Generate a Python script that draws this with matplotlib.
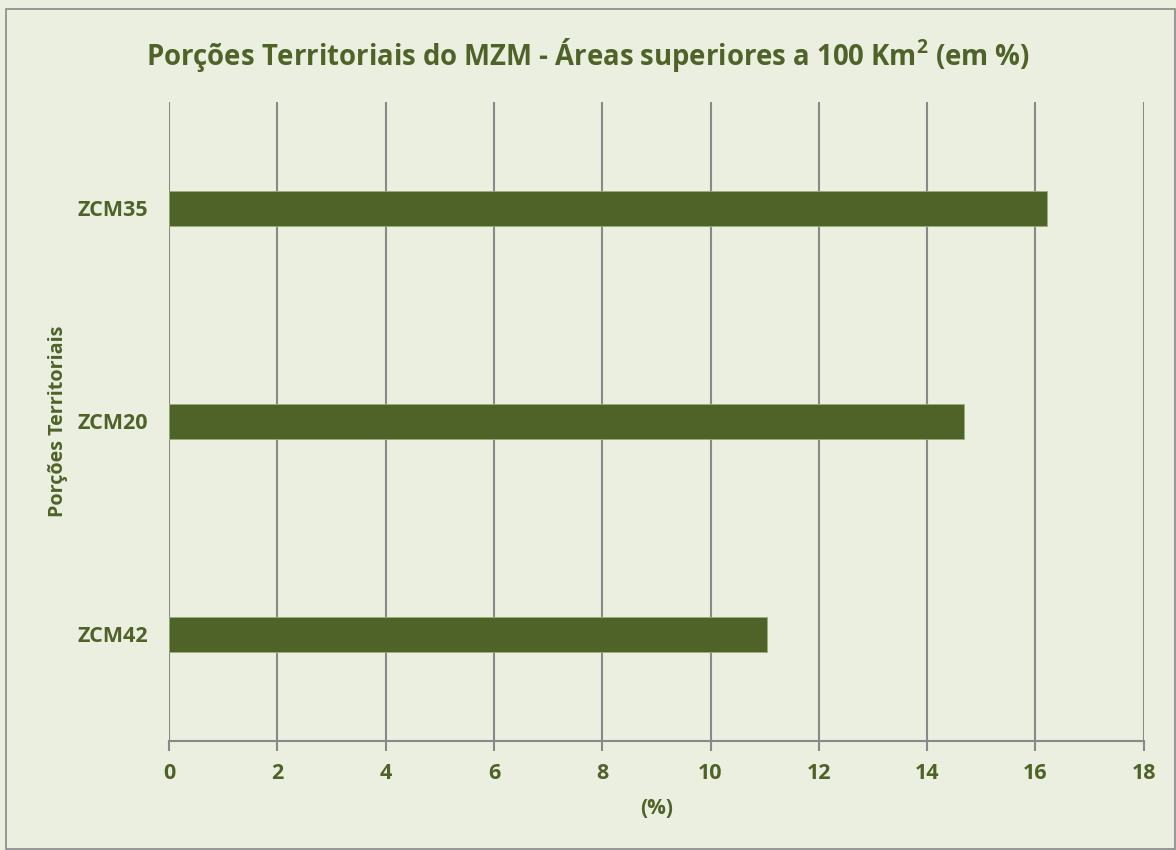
import matplotlib.pyplot as plt
import numpy as np

plt.rcParams['font.family'] = ['Open Sans', 'DejaVu Sans']
plt.rcParams['mathtext.fontset'] = 'custom'
plt.rcParams['mathtext.bf'] = 'Open Sans:bold'
plt.rcParams['mathtext.rm'] = 'Open Sans'

categories = ['ZCM42', 'ZCM20', 'ZCM35']
values = [11.04, 14.69, 16.22]
xticks = [0, 2, 4, 6, 8, 10, 12, 14, 16, 18]

bg = '#ebefdf'
green = '#4f6228'
grid = '#898989'

fig = plt.figure(figsize=(11.76, 8.5), dpi=100, facecolor=bg)
# outer frame
fig.patches.append(plt.Rectangle((6 / 1176, 1 - 849 / 850), 1169 / 1176, 840 / 850,
                                 transform=fig.transFigure, fill=False,
                                 edgecolor=grid, linewidth=1.2))

ax = fig.add_axes([169 / 1176, 1 - 741 / 850, (1143.7 - 169) / 1176, (741 - 102) / 850])
ax.set_facecolor(bg)

y = np.arange(len(categories))
ax.barh(y, values, height=0.164, color=green, edgecolor='#9aae78', linewidth=0.6, zorder=3)

ax.set_xlim(0, 18)
ax.set_ylim(-0.5, len(categories) - 0.5)
ax.set_xticks(xticks)
ax.set_xticklabels([str(t) for t in xticks])
ax.set_yticks(y)
ax.set_yticklabels(categories)

ax.grid(axis='x', color=grid, linewidth=1.5, zorder=0)
for s in ['top', 'right', 'left']:
    ax.spines[s].set_visible(False)
ax.spines['bottom'].set_color(grid)
ax.spines['bottom'].set_linewidth(1.5)

ax.tick_params(axis='x', colors=grid, width=1.5, length=7, pad=9,
               labelsize=15.5, labelcolor=green)
ax.tick_params(axis='y', length=0, pad=15, labelsize=15.5, labelcolor=green)
for lab in ax.get_xticklabels() + ax.get_yticklabels():
    lab.set_fontweight('bold')

ax.set_xlabel('(%)', fontsize=15, fontweight='bold', color=green)
ax.xaxis.set_label_coords(0.5, -(808 - 741) / 639, transform=ax.transAxes)
ax.xaxis.label.set_va('center')
ax.set_ylabel('Porções Territoriais', fontsize=14.2, fontweight='bold', color=green)
ax.yaxis.set_label_coords(-(169 - 58) / 974.7, 0.5, transform=ax.transAxes)
ax.yaxis.label.set_va('center')

fig.text(0.5, 1 - 55 / 850,
         r'Porções Territoriais do MZM - Áreas superiores a 100 Km$^{\mathbf{2}}$ (em %)',
         ha='center', va='center', fontsize=19.8, fontweight='bold', color=green)

fig.savefig('out.png', dpi=100, facecolor=bg)
